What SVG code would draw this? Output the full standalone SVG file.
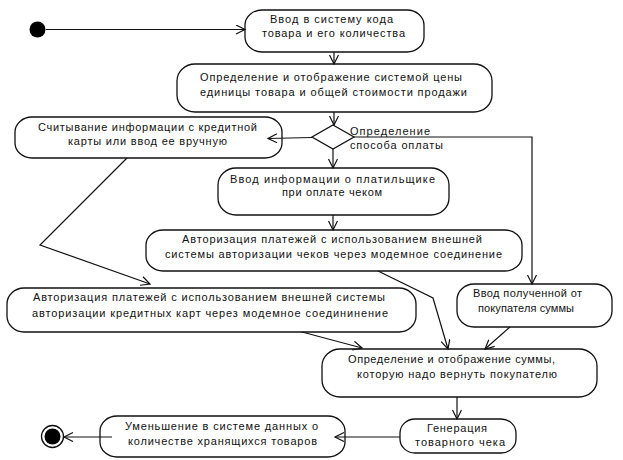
<svg xmlns="http://www.w3.org/2000/svg" width="623" height="460" viewBox="0 0 623 460">
<style>
.n{fill:#fff;stroke:#111;stroke-width:1.3}
.t{font-family:"Liberation Sans",Arial,sans-serif;font-size:11px;fill:#111}
.c{fill:none;stroke:#111;stroke-width:1.2;marker-end:url(#a)}
</style>
<defs>
<marker id="a" markerWidth="12" markerHeight="12" refX="10" refY="5" orient="auto" markerUnits="userSpaceOnUse">
<path d="M1,0.5 L10,5 L1,9.5" fill="none" stroke="#111" stroke-width="1.2"/>
</marker>
</defs>
<rect width="623" height="460" fill="#fff"/>
<g id="start"><circle cx="37.5" cy="29.5" r="8" fill="#000"/></g>
<g id="n1"><rect class="n" x="245" y="10" width="179" height="42" rx="17" ry="15"/>
<text class="t" x="270" y="23" textLength="123" lengthAdjust="spacing">Ввод в систему кода</text>
<text class="t" x="262" y="37" textLength="143" lengthAdjust="spacing">товара и его количества</text></g>
<g id="n2"><rect class="n" x="177" y="64" width="315" height="48" rx="18" ry="17"/>
<text class="t" x="200" y="81" textLength="262" lengthAdjust="spacing">Определение и отображение системой цены</text>
<text class="t" x="200" y="96" textLength="267" lengthAdjust="spacing">единицы товара и общей стоимости продажи</text></g>
<g id="d1"><polygon class="n" points="333,125 354,137 333,149 312,137"/>
<text class="t" x="350" y="135" textLength="80" lengthAdjust="spacing">Определение</text>
<text class="t" x="350" y="149" textLength="93" lengthAdjust="spacing">способа оплаты</text></g>
<g id="n3"><rect class="n" x="15" y="117" width="267" height="41" rx="17" ry="15"/>
<text class="t" x="38" y="131" textLength="219" lengthAdjust="spacing">Считывание информации с кредитной</text>
<text class="t" x="68" y="145" textLength="159" lengthAdjust="spacing">карты или ввод ее вручную</text></g>
<g id="n4"><rect class="n" x="218" y="168" width="231" height="47" rx="18" ry="17"/>
<text class="t" x="230" y="183" textLength="205" lengthAdjust="spacing">Ввод информации о платильщике</text>
<text class="t" x="282" y="196" textLength="100" lengthAdjust="spacing">при оплате чеком</text></g>
<g id="n5"><rect class="n" x="146" y="230" width="376" height="41" rx="17" ry="15"/>
<text class="t" x="182" y="243" textLength="300" lengthAdjust="spacing">Авторизация платежей с использованием внешней</text>
<text class="t" x="165" y="258" textLength="337" lengthAdjust="spacing">системы авторизации чеков через модемное соединение</text></g>
<g id="n6"><rect class="n" x="7" y="288" width="409" height="44" rx="17" ry="16"/>
<text class="t" x="33" y="301" textLength="352" lengthAdjust="spacing">Авторизация платежей с использованием внешней системы</text>
<text class="t" x="32" y="317" textLength="356" lengthAdjust="spacing">авторизации кредитных карт через модемное соедининение</text></g>
<g id="n7"><rect class="n" x="457" y="284" width="155" height="43" rx="17" ry="16"/>
<text class="t" x="473" y="297" textLength="109" lengthAdjust="spacing">Ввод полученной от</text>
<text class="t" x="478" y="312" textLength="96" lengthAdjust="spacing">покупателя суммы</text></g>
<g id="n8"><rect class="n" x="322" y="349" width="275" height="48" rx="18" ry="17"/>
<text class="t" x="348" y="363" textLength="207" lengthAdjust="spacing">Определение и отображение суммы,</text>
<text class="t" x="357" y="378" textLength="200" lengthAdjust="spacing">которую надо вернуть покупателю</text></g>
<g id="n9"><rect class="n" x="400" y="419" width="116" height="34" rx="15" ry="14"/>
<text class="t" x="427" y="432" textLength="60" lengthAdjust="spacing">Генерация</text>
<text class="t" x="415" y="446" textLength="90" lengthAdjust="spacing">товарного чека</text></g>
<g id="n10"><rect class="n" x="100" y="416" width="245" height="41" rx="17" ry="15"/>
<text class="t" x="125" y="430" textLength="193" lengthAdjust="spacing">Уменьшение в системе данных о</text>
<text class="t" x="128" y="445" textLength="189" lengthAdjust="spacing">количестве хранящихся товаров</text></g>
<g id="end"><circle cx="52.5" cy="436.5" r="11" fill="#fff" stroke="#111" stroke-width="1.3"/><circle cx="52.5" cy="436.5" r="8" fill="#000"/></g>
<g id="connectors">
<path class="c" d="M46,29.5 L245,29.5"/>
<path class="c" d="M334,52 L334,64"/>
<path class="c" d="M334,112 L334,125"/>
<path class="c" d="M312,137.5 L268,138.5"/>
<path class="c" d="M333,149 L333,168"/>
<path class="c" d="M354,137 L532,137 L532,284"/>
<path class="c" d="M333,215 L333,230"/>
<path class="c" d="M127,158 L40,245 L150,284"/>
<path class="c" d="M378,271 L433,298 L448,349"/>
<path class="c" d="M302,332 L362,348"/>
<path class="c" d="M510,327 L485,349"/>
<path class="c" d="M457,397 L457,419"/>
<path class="c" d="M400,437 L335,437"/>
<path class="c" d="M112,437 L64,437"/>
</g>
</svg>
